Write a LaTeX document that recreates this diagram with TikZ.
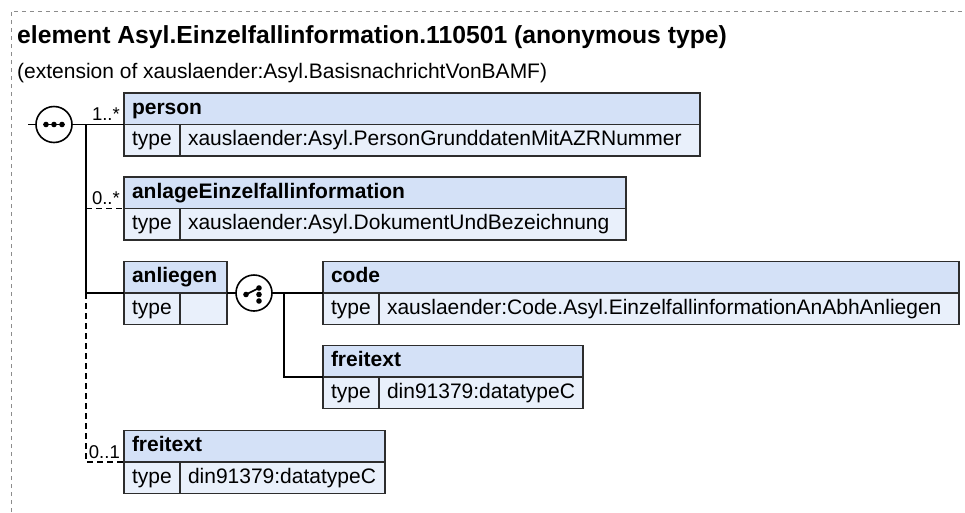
\documentclass[tikz,border=0pt]{standalone}
\usepackage{fontspec}
\setmainfont{Liberation Sans}
\usetikzlibrary{positioning}

\definecolor{hdrblue}{RGB}{212,225,247}
\definecolor{rowblue}{RGB}{233,240,251}
\definecolor{boxline}{RGB}{45,45,45}
\definecolor{frame}{RGB}{140,140,140}

\tikzset{
  cell/.style={draw=boxline, line width=1.3pt, anchor=north west, inner ysep=0pt, outer sep=0pt,
               minimum height=31.5pt, text height=15pt, text depth=4.5pt,
               font=\fontsize{21}{24}\selectfont},
  hdrcell/.style={cell, fill=hdrblue, inner xsep=8pt, align=left, font=\fontsize{21}{24}\selectfont\bfseries},
  typecell/.style={cell, fill=rowblue, inner xsep=0pt, minimum width=56pt},
  valcell/.style={cell, fill=rowblue, inner xsep=8pt, align=left},
  conn/.style={line width=1.6pt, black},
  optconn/.style={conn, dash pattern=on 6pt off 4pt},
  card/.style={inner sep=0pt, font=\fontsize{18.5}{20}\selectfont},
  compo/.style={circle, draw, line width=1.6pt, fill=white, minimum size=36pt, inner sep=0pt, outer sep=0pt}
}

\begin{document}
\begin{tikzpicture}[x=1pt, y=-1pt]
    \useasboundingbox (0,0) rectangle (965,512);
    % frame of the element
    \draw[frame, line width=1pt, dash pattern=on 4pt off 4pt] (11,512) -- (11,11) -- (965,11);
    \node[anchor=base west, inner sep=0pt, font=\fontsize{24.7}{28}\selectfont\bfseries] (title) at (17,43)
      {element Asyl.Einzelfallinformation.110501 (anonymous type)};
    \node[anchor=base west, inner sep=0pt, font=\fontsize{21}{24}\selectfont] (subtitle) at (17,78)
      {(extension of xauslaender:Asyl.BasisnachrichtVonBAMF)};

    % sequence
    \node[compo] (seq) at (54,124.5) {};
    \foreach \dx in {-8,0,8}
      \fill ([xshift=\dx pt]seq.center) circle (2.8pt);
    \draw[line width=1.6pt] ([xshift=-11pt]seq.center) -- ([xshift=11pt]seq.center);
    \coordinate (seqin) at (28,124.5);
    \coordinate (trunk) at (86,124.5);

    % person
    \node[hdrcell, text width=560pt] (person) at (124,93) {person};
    \node[typecell] (personT) at (person.south west) {type};
    \node[valcell, text width=504pt] (personV) at (personT.north east) {xauslaender:Asyl.PersonGrunddatenMitAZRNummer};

    % anlageEinzelfallinformation
    \node[hdrcell, text width=486pt] (anlage) at (124,177) {anlageEinzelfallinformation};
    \node[typecell] (anlageT) at (anlage.south west) {type};
    \node[valcell, text width=430pt] (anlageV) at (anlageT.north east) {xauslaender:Asyl.DokumentUndBezeichnung};

    % anliegen
    \node[hdrcell, text width=87pt] (anliegen) at (124,261.5) {anliegen};
    \node[typecell] (anliegenT) at (anliegen.south west) {type};
    \node[valcell, text width=31pt] (anliegenV) at (anliegenT.north east) {};

    % choice
    \node[compo] (choice) at (254,293) {};
    \fill ([shift={(-8,1.5)}]choice.center) coordinate (sw) circle (2.8pt);
    \foreach \dy in {-5,1.5,8}
      \fill ([shift={(5,\dy)}]choice.center) circle (2.8pt);
    \draw[line width=1.6pt] (sw) -- ([shift={(5,-5)}]choice.center);
    \coordinate (branch) at (284,293);

    % code
    \node[hdrcell, text width=620pt] (code) at (323,261.5) {code};
    \node[typecell] (codeT) at (code.south west) {type};
    \node[valcell, text width=564pt] (codeV) at (codeT.north east) {xauslaender:Code.Asyl.EinzelfallinformationAnAbhAnliegen};

    % freitext (in anliegen)
    \node[hdrcell, text width=244pt] (freitextB) at (323,345.5) {freitext};
    \node[typecell] (freitextBT) at (freitextB.south west) {type};
    \node[valcell, text width=188pt] (freitextBV) at (freitextBT.north east) {din91379:datatypeC};

    % freitext
    \node[hdrcell, text width=245pt] (freitext) at (124,430.5) {freitext};
    \node[typecell] (freitextT) at (freitext.south west) {type};
    \node[valcell, text width=189pt] (freitextV) at (freitextT.north east) {din91379:datatypeC};

    % connectors
    \draw[conn] (seqin) -- (seq.west);
    \draw[conn] (seq.east) -- (person.south west);
    \draw[conn] (trunk) |- (anliegen.south west);
    \draw[optconn] (trunk |- anlage.south west) -- (anlage.south west);
    \draw[optconn] (trunk |- anliegen.south west) |- (freitext.south west);
    \draw[conn] (anliegen.south east) -- (choice.west);
    \draw[conn] (choice.east) -- (code.south west);
    \draw[conn] (branch) |- (freitextB.south west);

    % cardinalities
    \node[card, anchor=base east] (personC) at ([shift={(-4,-4)}]person.south west) {1..*};
    \node[card, anchor=base east] (anlageC) at ([shift={(-4,-4)}]anlage.south west) {0..*};
    \node[card, anchor=base east] (freitextC) at ([shift={(-4,-4)}]freitext.south west) {0..1};
\end{tikzpicture}
\end{document}
